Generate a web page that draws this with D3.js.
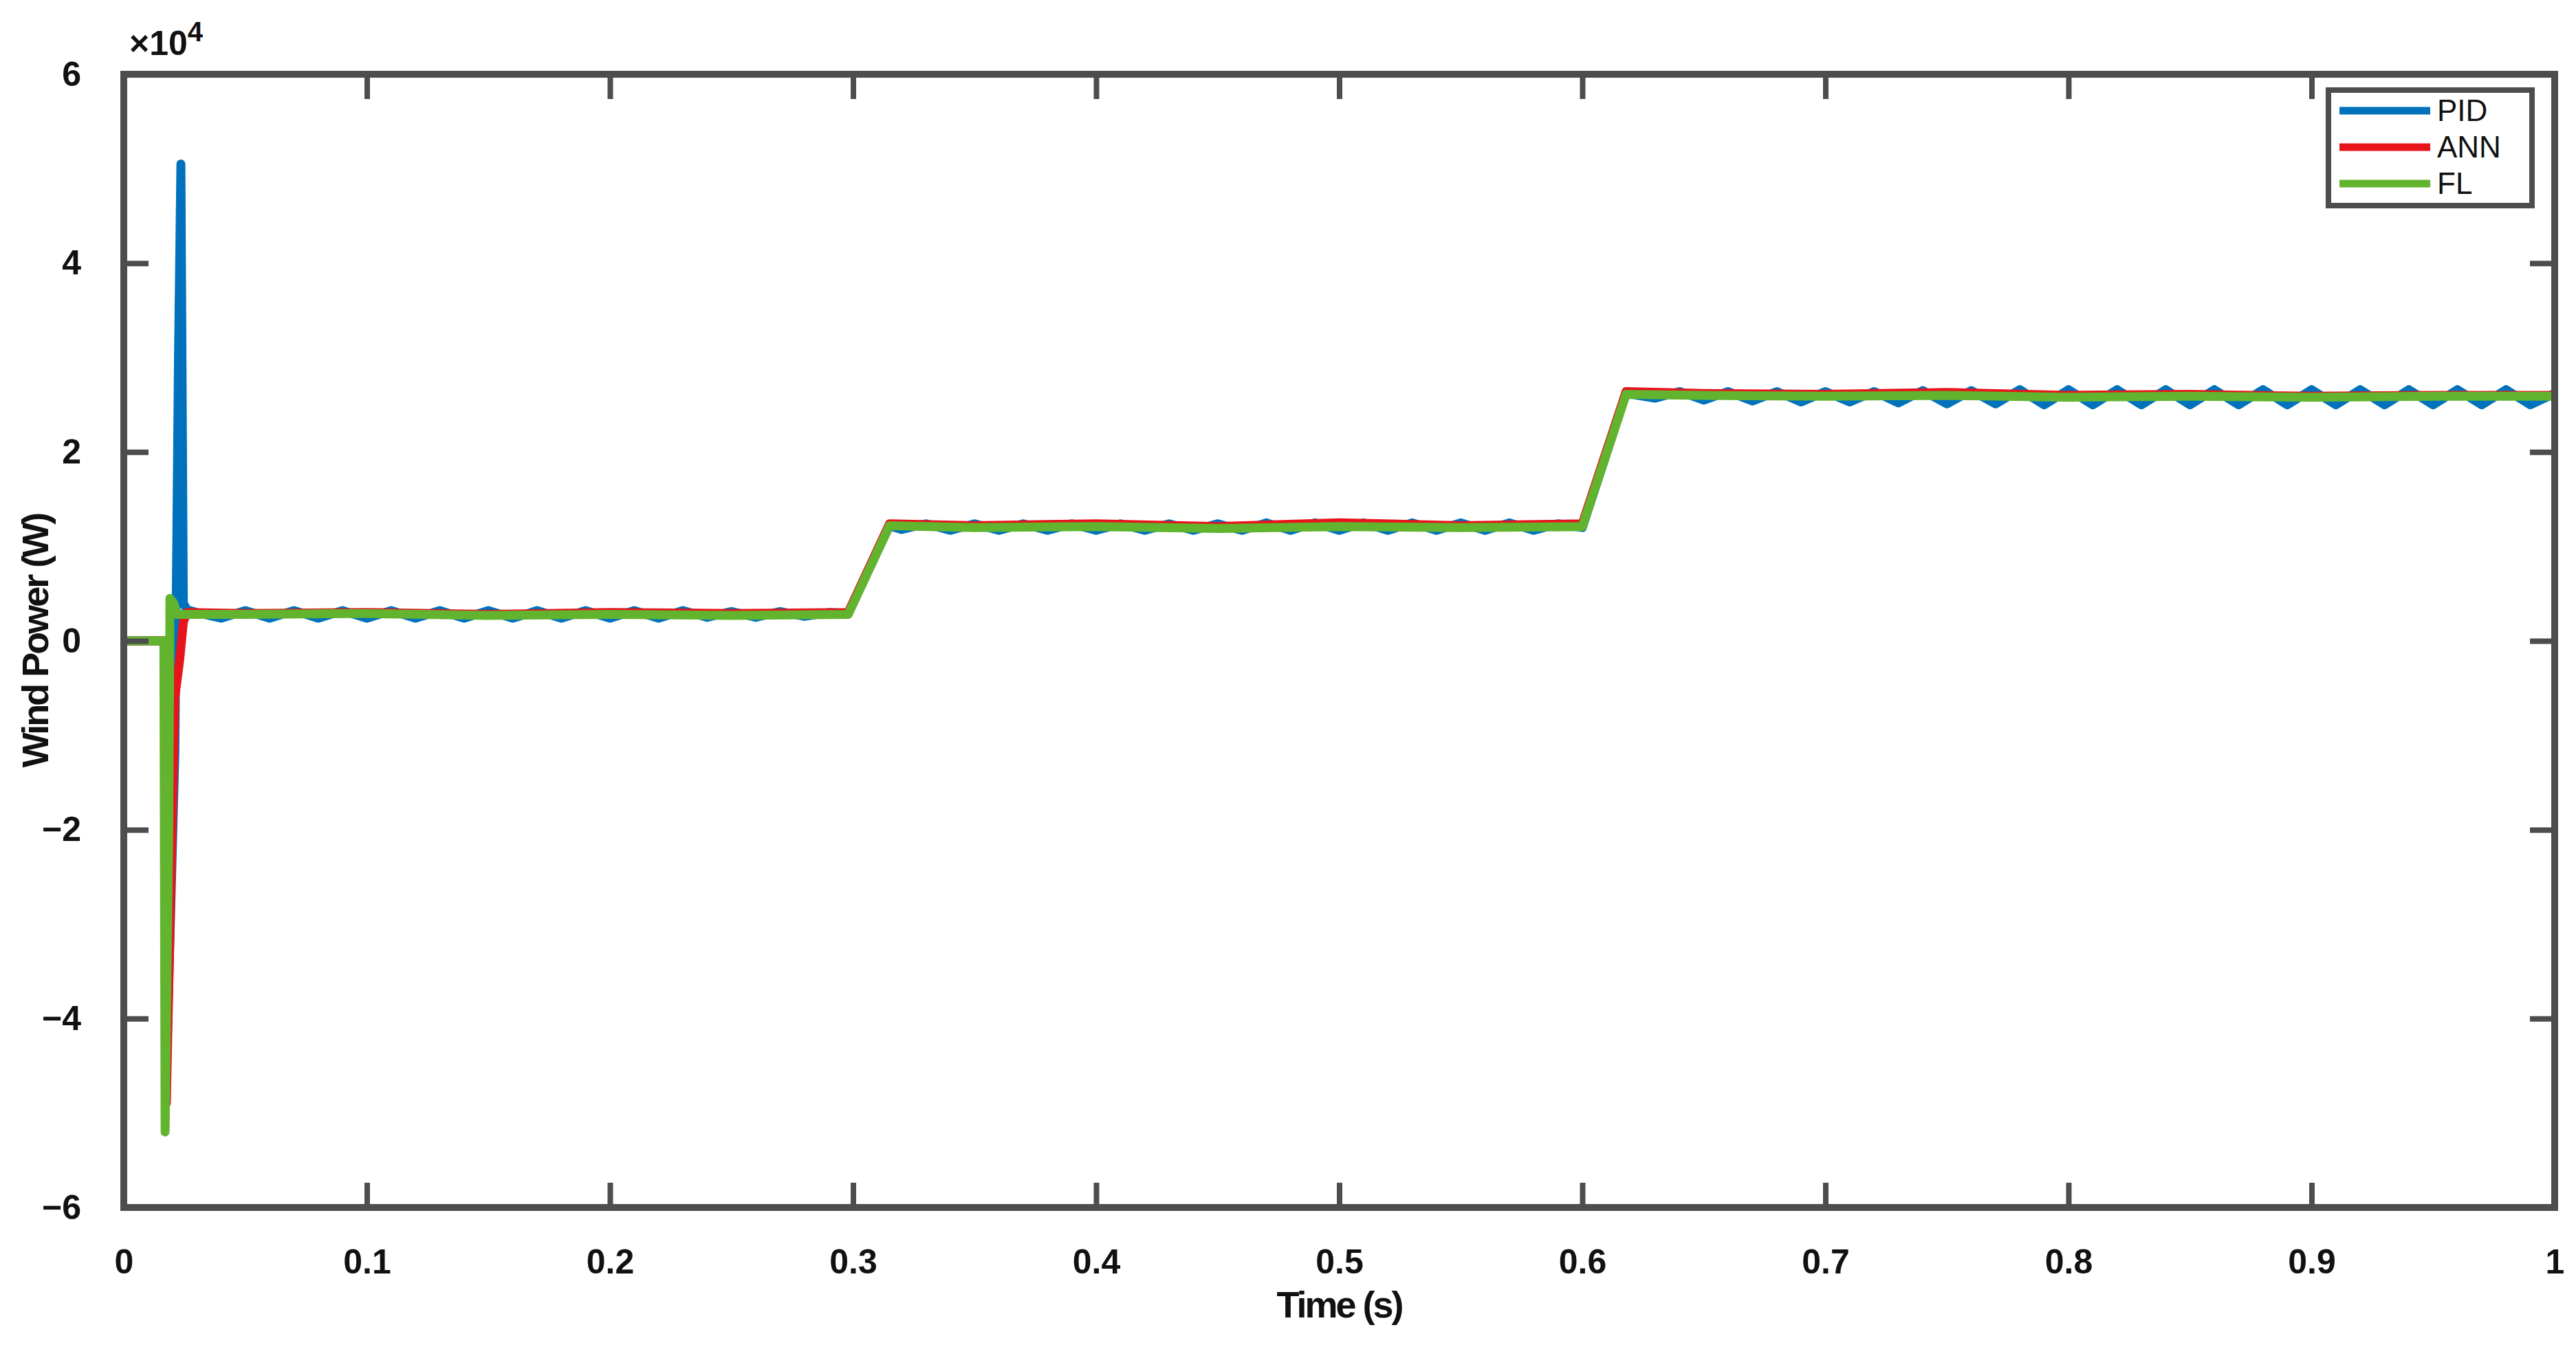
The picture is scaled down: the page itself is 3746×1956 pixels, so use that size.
<!DOCTYPE html>
<html>
<head>
<meta charset="utf-8">
<script src="https://cdn.jsdelivr.net/npm/d3@7"></script>
<style>
  body { margin: 0; background: #fff; }
  #chart { width: 3746px; height: 1956px; }
</style>
</head>
<body>
<div id="chart"></div>
<script>
// values are in units of 1e4 W
var xTicks = [0, 0.1, 0.2, 0.3, 0.4, 0.5, 0.6, 0.7, 0.8, 0.9, 1];
var yTicks = [-6, -4, -2, 0, 2, 4, 6];
var seriesNames = ["PID", "ANN", "FL"];
var seriesColors = ["#0072BD", "#E8141C", "#62B42E"];

var pid = [
    [0, 0], [0.017, 0], [0.0175, -4.6], [0.021, -1.2], [0.0225, 3.0], [0.0235, 5.05], [0.0245, 0.4], [0.026, 0.33],
    [0.03, 0.3], [0.04, 0.24], [0.05, 0.32], [0.06, 0.24], [0.07, 0.32], [0.08, 0.24], [0.09, 0.32], [0.10, 0.24],
    [0.11, 0.32], [0.12, 0.24], [0.13, 0.32], [0.14, 0.24], [0.15, 0.32], [0.16, 0.24], [0.17, 0.32], [0.18, 0.24],
    [0.19, 0.32], [0.20, 0.24], [0.21, 0.32], [0.22, 0.24], [0.23, 0.32], [0.24, 0.25], [0.25, 0.31], [0.26, 0.25],
    [0.27, 0.31], [0.28, 0.26], [0.29, 0.3], [0.298, 0.29],
    [0.315, 1.22], [0.32, 1.18], [0.33, 1.24], [0.34, 1.17], [0.35, 1.24], [0.36, 1.17], [0.37, 1.24], [0.38, 1.17],
    [0.39, 1.24], [0.40, 1.17], [0.41, 1.24], [0.42, 1.17], [0.43, 1.24], [0.44, 1.17], [0.45, 1.24], [0.46, 1.17],
    [0.47, 1.25], [0.48, 1.17], [0.49, 1.25], [0.50, 1.17], [0.51, 1.25], [0.52, 1.17], [0.53, 1.25], [0.54, 1.17],
    [0.55, 1.25], [0.56, 1.17], [0.57, 1.25], [0.58, 1.17], [0.59, 1.24], [0.60, 1.2],
    [0.618, 2.62], [0.63, 2.57], [0.64, 2.64], [0.65, 2.55], [0.66, 2.64], [0.67, 2.54], [0.68, 2.64], [0.69, 2.53],
    [0.70, 2.64], [0.71, 2.53], [0.72, 2.64], [0.73, 2.52], [0.74, 2.65], [0.75, 2.51], [0.76, 2.65], [0.77, 2.51],
    [0.78, 2.66], [0.79, 2.5], [0.80, 2.66], [0.81, 2.5], [0.82, 2.66], [0.83, 2.5], [0.84, 2.66], [0.85, 2.5],
    [0.86, 2.66], [0.87, 2.5], [0.88, 2.66], [0.89, 2.5], [0.90, 2.66], [0.91, 2.5], [0.92, 2.66], [0.93, 2.5],
    [0.94, 2.66], [0.95, 2.5], [0.96, 2.66], [0.97, 2.5], [0.98, 2.66], [0.99, 2.5], [1.0, 2.62]
];

var ann = [
    [0, 0], [0.017, 0], [0.0175, -4.9], [0.021, -0.6], [0.023, -0.2], [0.0245, 0.2], [0.026, 0.3],
    [0.05, 0.29], [0.1, 0.3], [0.15, 0.28], [0.2, 0.3], [0.25, 0.29], [0.298, 0.3],
    [0.315, 1.24], [0.35, 1.22], [0.4, 1.24], [0.45, 1.21], [0.5, 1.25], [0.55, 1.22], [0.6, 1.24],
    [0.618, 2.64], [0.65, 2.62], [0.7, 2.61], [0.75, 2.63], [0.8, 2.6], [0.85, 2.61], [0.9, 2.59], [0.95, 2.6], [1.0, 2.6]
];

var fl = [
    [0, 0], [0.0165, 0], [0.017, -5.2], [0.0185, -2.0], [0.019, 0.45], [0.0205, 0.4], [0.022, 0.28],
    [0.05, 0.28], [0.1, 0.29], [0.15, 0.27], [0.2, 0.28], [0.25, 0.27], [0.298, 0.28],
    [0.315, 1.22], [0.35, 1.2], [0.4, 1.21], [0.45, 1.19], [0.5, 1.21], [0.55, 1.2], [0.6, 1.21],
    [0.618, 2.61], [0.65, 2.6], [0.7, 2.59], [0.75, 2.6], [0.8, 2.58], [0.85, 2.59], [0.9, 2.58], [0.95, 2.59], [1.0, 2.59]
];

var dataSeries = [pid, ann, fl];

var width = 3746, height = 1956;
var padding = { left: 180, right: 31, top: 108, bottom: 200 };
var plotWidth = width - padding.left - padding.right;
var plotHeight = height - padding.top - padding.bottom;
var axisColor = "#4d4d4d";
var font = "'Liberation Sans', Arial, sans-serif";

var x_scale = d3.scaleLinear().domain([0, 1]).range([0, plotWidth]);
var y_scale = d3.scaleLinear().domain([-6, 6]).range([plotHeight, 0]);

var svg = d3.select("#chart").append("svg")
    .attr("width", width)
    .attr("height", height);

var plot = svg.append("g")
    .attr("transform", "translate(" + padding.left + "," + padding.top + ")");

var clip = svg.append("defs").append("clipPath").attr("id", "clip")
    .append("rect").attr("x", -6).attr("y", -6).attr("width", plotWidth + 12).attr("height", plotHeight + 12);

var line = d3.line()
    .x(function (d) { return x_scale(d[0]); })
    .y(function (d) { return y_scale(d[1] ); });

var lines = plot.append("g").attr("clip-path", "url(#clip)");
dataSeries.forEach(function (s, i) {
    lines.append("path")
        .datum(s)
        .attr("fill", "none")
        .attr("stroke", seriesColors[i])
        .attr("stroke-width", 13)
        .attr("stroke-linejoin", "round")
        .attr("d", line);
});

// axes: ticks inside, on all four sides
var tickLen = 36;
var bottomAxis = d3.axisBottom(x_scale).tickValues(xTicks).tickSizeInner(-tickLen).tickSizeOuter(0)
    .tickPadding(tickLen + 24).tickFormat(function (d) { return d3.format("")(d); });
var topAxis = d3.axisTop(x_scale).tickValues(xTicks).tickSizeInner(-tickLen).tickSizeOuter(0).tickFormat("");
var leftAxis = d3.axisLeft(y_scale).tickValues(yTicks).tickSizeInner(-tickLen).tickSizeOuter(0)
    .tickPadding(tickLen + 26);
var rightAxis = d3.axisRight(y_scale).tickValues(yTicks).tickSizeInner(-tickLen).tickSizeOuter(0).tickFormat("");

function styleAxis(g) {
    g.select(".domain").remove();
    g.selectAll(".tick line").attr("stroke", axisColor).attr("stroke-width", 8);
    g.selectAll(".tick text").attr("fill", "#111").attr("font-family", font)
        .attr("font-weight", "bold").attr("font-size", 50);
}

plot.append("g").attr("transform", "translate(0," + plotHeight + ")").call(bottomAxis).call(styleAxis);
plot.append("g").call(topAxis).call(styleAxis);
plot.append("g").call(leftAxis).call(styleAxis);
plot.append("g").attr("transform", "translate(" + plotWidth + ",0)").call(rightAxis).call(styleAxis);

plot.append("rect")
    .attr("width", plotWidth).attr("height", plotHeight)
    .attr("fill", "none").attr("stroke", axisColor).attr("stroke-width", 10);

// exponent label
var expo = svg.append("text")
    .attr("x", padding.left + 8).attr("y", padding.top - 28)
    .attr("font-family", font).attr("font-weight", "bold").attr("font-size", 50).attr("fill", "#111");
expo.append("tspan").text("\u00d710");
expo.append("tspan").attr("dy", -20).attr("font-size", 40).text("4");

// axis labels
svg.append("text")
    .attr("x", padding.left + plotWidth / 2).attr("y", height - 40)
    .attr("text-anchor", "middle").attr("font-family", font).attr("font-weight", "bold")
    .attr("font-size", 54).attr("letter-spacing", -3).attr("fill", "#111")
    .text("Time (s)");
svg.append("text")
    .attr("transform", "translate(70," + (padding.top + plotHeight / 2) + ") rotate(-90)")
    .attr("text-anchor", "middle").attr("font-family", font).attr("font-weight", "bold")
    .attr("font-size", 54).attr("letter-spacing", -3).attr("fill", "#111")
    .text("Wind Power (W)");

// legend
var legend = svg.append("g").attr("transform", "translate(3386,131)");
legend.append("rect").attr("width", 296).attr("height", 168)
    .attr("fill", "#fff").attr("stroke", axisColor).attr("stroke-width", 8);
seriesNames.forEach(function (name, i) {
    var y = 30 + i * 53;
    legend.append("line").attr("x1", 16).attr("x2", 148).attr("y1", y).attr("y2", y)
        .attr("stroke", seriesColors[i]).attr("stroke-width", 11);
    legend.append("text").attr("x", 158).attr("y", y).attr("dy", "0.35em")
        .attr("font-family", font).attr("font-size", 44).attr("fill", "#111").text(name);
});
</script>
</body>
</html>
